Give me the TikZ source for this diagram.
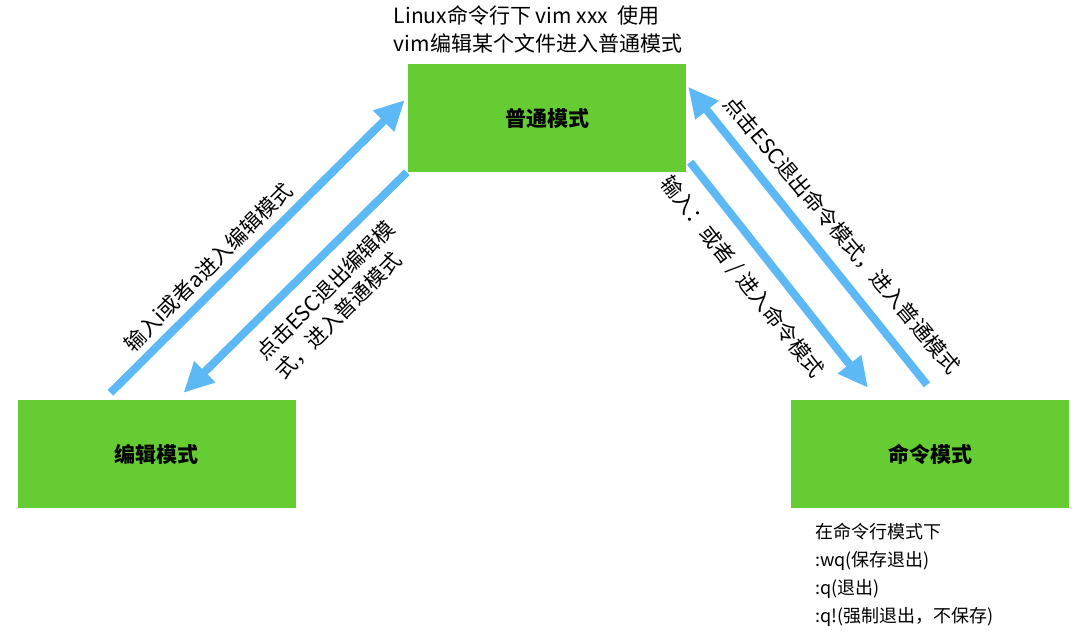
\documentclass[tikz,border=0pt]{standalone}
\usepackage{fontspec}
\setmainfont{Noto Sans CJK SC}
\usepackage{xcolor}
\usetikzlibrary{calc,arrows.meta}
\definecolor{modeg}{HTML}{66CC33}
\definecolor{flowb}{HTML}{5DB9F5}
\tikzset{
  mode/.style={fill=modeg,minimum width=278pt,minimum height=108pt,inner sep=0pt,font=\fontsize{21}{25}\selectfont\bfseries},
  flow/.style={-{Triangle[length=30pt,width=28pt]},line width=8pt,flowb},
  lbl/.style={font=\fontsize{21}{27}\selectfont,align=left,inner sep=0pt}
}
\begin{document}
\begin{tikzpicture}[x=1pt,y=-1pt]
\useasboundingbox (0,0) rectangle (1080,638);
% the three modes
\node[mode] (normal) at (547,118) {普通模式};
\node[mode] (edit) at (156.5,454) {编辑模式};
\node[mode] (cmd) at (930,454) {命令模式};
% transitions
\draw[flow] ($(edit.north)+(-46,-7)$) -- ($(normal.west)+(-3,-18)$);
\draw[flow] ($(normal.south west)+(-1,0)$) -- ($(edit.north)+(27,-7)$);
\draw[flow] ($(normal.south east)+(4,-10)$) -- ($(cmd.north)+(-62,-12)$);
\draw[flow] ($(cmd.north)+(-3,-15)$) -- ($(normal.north east)+(2,23)$);
% labels
\node[lbl,rotate=45] (toedit) at (208,267) {输入i或者a进入编辑模式};
\node[lbl,rotate=45] (fromedit) at (335,300) {点击ESC退出编辑模\\式，进入普通模式};
\node[lbl,rotate=-52] (tocmd) at (742,277) {输入：或者 / 进入命令模式};
\node[lbl,rotate=-50] (fromcmd) at (842,235) {点击ESC退出命令模式，进入普通模式};
\node[lbl,font=\fontsize{21}{28}\selectfont] (start) at (538,29) {Linux命令行下 vim xxx\ \ 使用\\vim编辑某个文件进入普通模式};
\node[lbl,anchor=west,font=\fontsize{18}{28}\selectfont] (cmdnote) at (815,575) {在命令行模式下\\:wq(保存退出)\\:q(退出)\\:q!(强制退出，不保存)};
\end{tikzpicture}
\end{document}
